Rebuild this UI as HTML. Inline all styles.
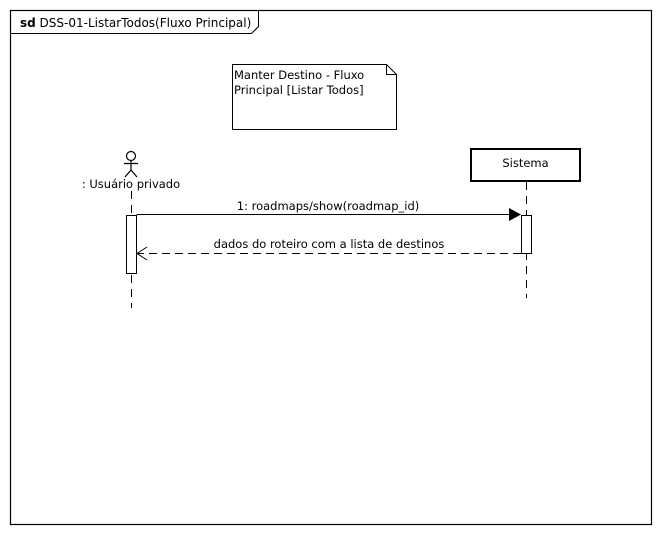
<!DOCTYPE html>
<html><head><meta charset="utf-8"><style>
html,body{margin:0;padding:0;background:#fff;}
svg{display:block;font-family:"DejaVu Sans","Liberation Sans",sans-serif;}
</style></head><body>
<svg width="660" height="535" viewBox="0 0 660 535" xmlns="http://www.w3.org/2000/svg">
<rect x="10.5" y="10.5" width="641" height="514" fill="#fff" stroke="#000" stroke-width="1.2"/>
<path d="M10.5 33.5 H251.5 L258.5 26.5 V10.5" fill="none" stroke="#000"/>
<text x="20" y="27" font-size="12"><tspan font-weight="bold">sd</tspan> DSS-01-ListarTodos(Fluxo Principal)</text>
<path d="M232.5 64.5 H386.5 L396.5 74.5 V129.5 H232.5 Z" fill="#fff" stroke="#000"/>
<path d="M386.5 64.5 V74.5 H396.5" fill="none" stroke="#000"/>
<text x="234" y="79" font-size="11.5">Manter Destino - Fluxo</text>
<text x="234" y="94" font-size="11.5">Principal [Listar Todos]</text>
<g stroke="#000" fill="none" stroke-width="1.2">
<circle cx="131" cy="156" r="4.5" fill="#fff"/>
<path d="M131 160.5 V170 M124 163.5 H138 M131 170 L125 177 M131 170 L137 177"/>
</g>
<text x="131" y="188" font-size="11.5" text-anchor="middle">: Usuário privado</text>
<path d="M131.5 191 V308" stroke="#000" stroke-dasharray="8,6"/>
<rect x="126.5" y="215.5" width="10" height="58" fill="#fff" stroke="#000"/>
<rect x="471" y="149" width="109" height="32" fill="#fff" stroke="#000" stroke-width="2"/>
<text x="525.5" y="167" font-size="11.5" text-anchor="middle">Sistema</text>
<path d="M526.5 182 V298" stroke="#000" stroke-dasharray="8,6"/>
<rect x="521.5" y="215.5" width="10" height="38" fill="#fff" stroke="#000"/>
<path d="M136.5 214.5 H510" stroke="#000"/>
<path d="M509 208 L521 214.5 L509 221 Z" fill="#000"/>
<text x="328" y="210" font-size="11.5" text-anchor="middle">1: roadmaps/show(roadmap_id)</text>
<path d="M521 253.5 H137" stroke="#000" stroke-dasharray="8,5"/>
<path d="M147 247 L137 253.5 L147 260" fill="none" stroke="#000"/>
<text x="329" y="248" font-size="11.5" text-anchor="middle">dados do roteiro com a lista de destinos</text>
</svg>
</body></html>
